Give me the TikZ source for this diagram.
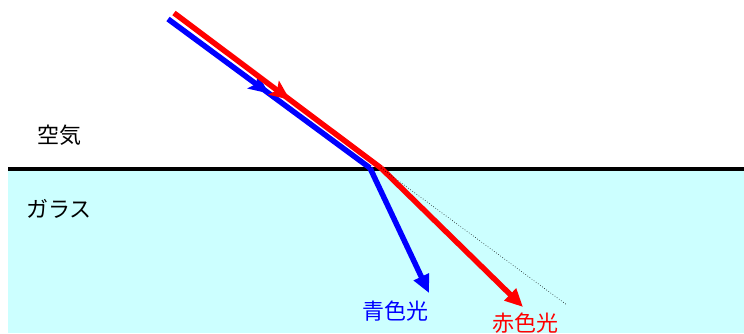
\documentclass[tikz,border=0pt]{standalone}
\usepackage{fontspec}
\newfontfamily\cjk{Noto Sans CJK JP}
\usetikzlibrary{arrows.meta,decorations.markings}
\definecolor{glass}{RGB}{204,255,255}
\tikzset{
  ray/.style={line width=5.5pt},
  midarrow/.style={postaction={decorate},decoration={markings,
      mark=at position #1 with {\arrow{Stealth[length=20pt,width=17pt,inset=4pt]}}}},
  label/.style={font=\cjk\fontsize{22}{24}\selectfont,inner sep=0pt}
}

\begin{document}
\begin{tikzpicture}[x=1pt,y=-1pt]
        \useasboundingbox (0,0) rectangle (744,333);
        % glass and surface
        \fill[glass] (8,170) rectangle (744,333);
        \draw[line width=4pt] (8,169) -- (744,169);
        % points of the rays
        \coordinate (bluein) at (168,19);
        \coordinate (redin) at (174,13);
        \coordinate (bluehit) at (370,168);
        \coordinate (redhit) at (381,168);
        \coordinate (blueout) at (429,293);
        \coordinate (redout) at (523,307);
        \coordinate (straight) at (567,305);
        % incident light
        \draw[ray,blue,midarrow=0.5] (bluein) -- (bluehit);
        \draw[ray,red,midarrow=0.56] (redin) -- (redhit);
        % refracted light
        \draw[ray,blue,-{Triangle[length=18pt,width=16pt]}] (bluehit) -- (blueout);
        \draw[ray,red,-{Triangle[length=18pt,width=16pt]}] (redhit) -- (redout);
        \draw[dotted,line width=0.6pt] (redhit) -- (straight);
        % labels
        \node[label] (air) at (59,135) {空気};
        \node[label] (glasslabel) at (59,209) {ガラス};
        \node[label,blue] (bluename) at (395,311) {青色光};
        \node[label,red] (redname) at (525,323) {赤色光};
      \end{tikzpicture}
\end{document}
